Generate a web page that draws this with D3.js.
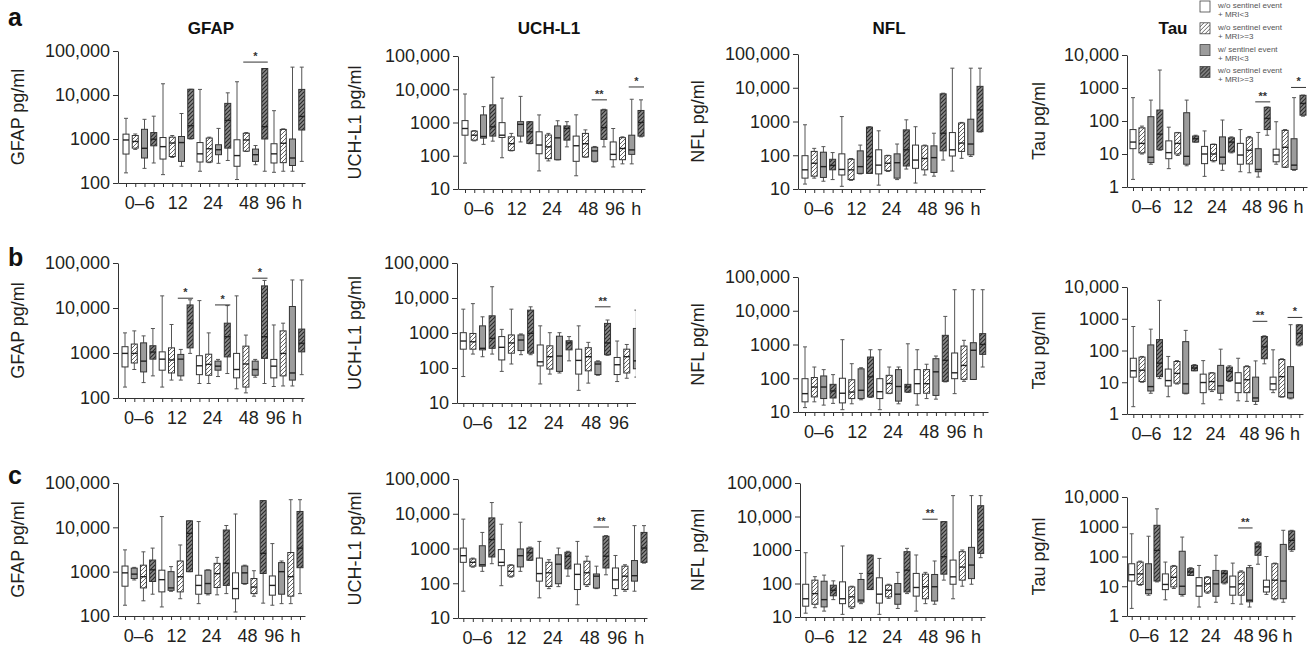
<!DOCTYPE html>
<html>
<head>
<meta charset="utf-8">
<script src="https://cdn.jsdelivr.net/npm/d3@7"></script>
<style>
  body { margin: 0; background: #fff; }
  svg { font-family: "Liberation Sans", Arial, Helvetica, sans-serif; }
</style>
</head>
<body>
<svg id="fig" width="1315" height="649"></svg>
<script>
// groups shown in the legend (text as printed in the figure)
const legendLines = [
  ["w/o sentinel event", "+ MRI<3"],
  ["w/o sentinel event", "+ MRI>=3"],
  ["w/ sentinel event", "+ MRI<3"],
  ["w/o sentinel event", "+ MRI>=3"]
];
const markers = ["GFAP", "UCH-L1", "NFL", "Tau"];
const rowLetters = ["a", "b", "c"];
const timeLabels = ["0–6", "12", "24", "48", "96", "h"];
const timeLabelPos = [1.5, 5.6, 9.4, 13.3, 16.2, 18.5];   // in box-slot units

// group of each box slot (4 groups x 5 time points)
const orderStd = [0,1,2,3, 0,1,2,3, 0,1,2,3, 0,1,2,3, 0,1,2,3];
const orderGfapC = [0,2,1,3, 0,2,1,3, 0,2,1,3, 0,2,1,3, 0,2,1,3];

// boxes: [whisker low, q1, median, q3, whisker high] pg/ml
const gfapA = [
  [170,455,950,1290,2950],[580,620,880,1200,1300],[215,370,615,1660,2800],[285,700,990,1400,3300],
  [155,350,670,1080,18000],[380,400,810,1100,1200],[240,310,830,1140,3800],[1000,1020,2000,13500,13500],
  [185,300,460,830,13400],[290,300,600,1050,1100],[280,440,570,740,1740],[325,620,2650,6450,11200],
  [120,240,420,960,20000],[520,530,950,1350,1400],[260,310,440,590,710],[185,1000,1900,40000,40000],
  [175,285,460,780,4400],[185,290,800,1650,1700],[185,250,370,1000,43000],[310,1600,3250,13400,43000]
];
const uchl1A = [
  [60,415,660,1140,7200],[280,295,415,550,570],[220,340,380,1690,3000],[275,390,740,3400,23000],
  [87,355,415,990,5400],[140,145,230,370,470],[260,390,880,1060,6100],[230,235,525,1050,1060],
  [35,115,210,525,1690],[70,82,185,420,470],[75,76,345,790,1130],[185,295,660,790,1060],
  [25,68,200,390,1700],[90,92,230,470,600],[65,68,140,180,190],[185,310,700,2400,2500],
  [46,76,110,260,660],[57,76,165,350,370],[57,110,150,415,5000],[370,390,1000,2300,4800]
];
const nflA = [
  [14,21,37,97,800],[21,24,58,130,160],[17,22,46,123,180],[19,37,50,76,120],
  [12,26,38,110,1400],[18,19,37,76,80],[28,29,46,135,200],[29,29,91,680,700],
  [13,28,51,145,530],[33,35,58,97,100],[19,21,60,110,215],[39,48,145,565,1120],
  [15,41,72,200,700],[26,37,80,190,200],[24,31,85,190,450],[72,135,450,6600,6900],
  [34,95,145,470,38000],[81,130,230,900,940],[92,103,215,1170,38000],[490,500,2200,11000,38000]
];
const tauA = [
  [1.7,14.5,23,55,510],[10,10.8,21,62,70],[4.9,5.5,8,135,430],[13,13.5,40,215,3500],
  [3.6,7.2,11,25,65],[9,10,21,44,45],[4.4,4.9,8.5,178,430],[23,23,29,35,37],
  [2.1,5.1,10,17,50],[5.8,6.3,10,19.5,20],[3.2,5,8,33,107],[10.8,11.5,23,31,33],
  [2.9,4.9,9.3,21,55],[2.7,5,13,31,34],[2,2.9,3.4,14.5,45],[37,55,120,260,265],
  [4.9,5.8,9.3,14,95],[3.9,4,16,52,55],[3.2,3.4,4.6,29,510],[140,150,340,600,610]
];
const gfapB = [
  [175,490,980,1380,2800],[430,600,980,1580,3100],[220,380,660,1680,2400],[310,730,1050,1450,3500],
  [175,415,730,1060,18600],[250,360,700,1300,4300],[250,310,730,930,1200],[980,1300,4600,11700,15200],
  [210,330,520,870,14600],[210,320,560,940,2800],[300,415,510,660,720],[350,820,2300,4600,11300],
  [160,280,430,980,18600],[130,175,570,1420,2500],[290,320,430,660,720],[210,760,2300,31000,41000],
  [180,280,510,720,4200],[185,310,980,3100,4600],[185,250,360,10800,42000],[330,1060,1650,3400,42000]
];
const uchl1B = [
  [57,345,590,1020,4800],[250,345,560,970,6900],[210,330,365,1600,2900],[250,365,700,3100,21000],
  [80,170,390,790,1270],[130,265,520,880,4800],[240,315,630,880,940],[240,265,980,4500,5600],
  [35,115,150,455,1600],[67,93,210,430,1020],[72,80,220,810,1020],[160,330,520,600,790],
  [23,67,165,345,1600],[37,83,210,380,540],[62,65,130,150,160],[230,240,520,1880,2350],
  [41,65,124,200,590],[51,72,210,345,470],[55,95,160,1350,4500],[370,390,1000,2300,4800]
];
const nflB = [
  [13.5,20,35,97,850],[20,28,55,105,215],[16,25,55,117,180],[18,26,42,66,128],
  [11.7,18.6,36,100,1390],[17.5,25,39,90,270],[23,25,44,190,205],[27,28,110,425,700],
  [11.7,25,40,97,700],[35,36,70,122,215],[17.5,21,57,180,215],[38,39,55,66,1050],
  [16,35,69,180,700],[25,36,69,180,260],[24,31,155,380,455],[78,81,340,1870,6800],
  [35,97,145,560,42000],[81,93,240,900,1330],[92,92,675,1130,42000],[215,510,1000,2100,42000]
];
const tauB = [
  [1.7,14.5,23,57,570],[10,10.5,24,62,65],[4.5,5.3,7.3,150,470],[13,15,40,220,3800],
  [3.5,7.6,11.3,26,65],[8.8,9.4,19,45,48],[4.3,4.5,8.9,190,430],[23,23,28,34,36],
  [2.1,4.7,9.8,18,48],[5.1,5.8,10.5,19.5,20],[2.8,4.5,7.7,34,110],[10.5,11.3,22,30,33],
  [2.6,4.7,9.4,20,57],[2.5,4.7,12,31,33],[2,2.5,3.2,14.5,47],[38,55,130,275,290],
  [4.7,5.8,8.9,14.5,105],[3.4,3.5,15,52,55],[3,3.2,4.7,31,650],[140,150,350,640,650]
];
const gfapC = [
  [175,470,940,1340,3100],[650,700,880,1200,1250],[220,430,770,1400,2800],[310,600,1100,1830,3400],
  [160,350,660,1080,17500],[360,380,430,1000,1300],[245,350,770,1740,4000],[1000,1000,7300,14000,14000],
  [190,310,490,830,13500],[300,320,540,1080,1100],[300,440,900,1540,2100],[320,490,1540,8700,11000],
  [123,245,415,940,20000],[520,540,940,1340,1400],[280,320,450,700,1050],[195,910,2600,40000,40000],
  [175,295,490,800,4300],[190,310,1000,1600,1740],[190,280,770,2700,42000],[320,1230,3400,22800,42000]
];
const uchl1C = [
  [59,400,620,1030,7000],[290,310,400,500,530],[220,310,340,1200,2900],[365,570,1800,7600,21000],
  [85,320,400,930,5000],[150,160,220,330,340],[220,295,620,970,5700],[460,460,750,1030,1100],
  [38,115,190,530,1600],[70,81,200,400,475],[80,97,355,660,1030],[160,260,600,780,830],
  [24,66,180,355,1600],[81,91,200,430,600],[70,73,160,185,310],[175,275,600,2250,2350],
  [44,70,125,275,630],[59,66,160,310,340],[59,115,165,450,4550],[380,400,1030,2900,4550]
];
const nflC = [
  [13,21,35,95,830],[19,24,50,126,160],[15,20,33,117,178],[33,43,63,89,120],
  [12,25,35,112,1320],[18,20,40,79,83],[25,28,32,132,200],[66,66,200,700,710],
  [12,26,48,148,560],[36,40,63,89,95],[18,24,48,100,215],[50,56,250,890,1120],
  [15,42,76,200,710],[25,35,80,190,215],[24,30,80,186,470],[126,190,630,7000,7000],
  [35,95,158,500,42000],[83,126,310,890,1000],[95,140,355,1200,42000],[590,790,4000,21000,42000]
];
const tauC = [
  [1.8,15,24.5,57,580],[10.8,11.5,26,65,70],[5,5.6,7.7,57,480],[14,15,160,1120,4000],
  [3.5,7.7,11.5,26,65],[8.4,9.5,20,47,50],[4.7,5.3,10,150,450],[23,23,30,39,42],
  [2,4.6,10.3,19.5,50],[5.8,6.4,12,20,21],[2.9,4.6,12,34,110],[12,13,27,33,34],
  [2.6,5,9.5,22,60],[2.5,5,12,30,33],[2,3,3.4,42,50],[55,110,210,285,310],
  [5.3,6.4,9.5,16,100],[3.5,3.8,16,57,60],[2.9,3.8,15,255,760],[150,170,350,720,760]
];

// significance brackets: [from slot, to slot, level pg/ml, label]
const sigGfapA = [[13,15,56000,"*"]];
const sigUchl1A = [[14,15,4800,"**"],[18,19,11700,"*"]];
const sigTauA = [[14,15,380,"**"],[18,19,1040,"*"]];
const sigGfapB = [[6,7,16500,"*"],[10,11,11700,"*"],[14,15,46000,"*"]];
const sigUchl1B = [[14,15,5600,"**"]];
const sigTauB = [[14,15,830,"**"],[18,19,1100,"*"]];
const sigUchl1C = [[14,15,4150,"**"]];
const sigNflC = [[13,14,8300,"**"]];
const sigTauC = [[13,14,910,"**"]];

const ticksGfap = [100, 1000, 10000, 100000];
const ticksWide = [10, 100, 1000, 10000, 100000];
const ticksTau = [1, 10, 100, 1000, 10000];

// panel layout
const panels = [
  {row:0, m:0, data:gfapA,  order:orderStd, sig:sigGfapA,  ticks:ticksGfap, x0:118,  x1:305,  bx0:126,    bx1:301.75, yTop:51,  yBot:183},
  {row:0, m:1, data:uchl1A, order:orderStd, sig:sigUchl1A, ticks:ticksWide, x0:458,  x1:645,  bx0:465,    bx1:641,    yTop:56,  yBot:189},
  {row:0, m:2, data:nflA,   order:orderStd, sig:[],        ticks:ticksWide, x0:798,  x1:985,  bx0:805,    bx1:980,    yTop:54,  yBot:189},
  {row:0, m:3, data:tauA,   order:orderStd, sig:sigTauA,   ticks:ticksTau,  x0:1127, x1:1307, bx0:1133,   bx1:1303,   yTop:55,  yBot:187},
  {row:1, m:0, data:gfapB,  order:orderStd, sig:sigGfapB,  ticks:ticksGfap, x0:118,  x1:304,  bx0:125,    bx1:301.7,  yTop:263, yBot:398},
  {row:1, m:1, data:uchl1B, order:orderStd, sig:sigUchl1B, ticks:ticksWide, x0:457,  x1:656,  bx0:463.3,  bx1:646,    yTop:263, yBot:403, clip:636},
  {row:1, m:2, data:nflB,   order:orderStd, sig:[],        ticks:ticksWide, x0:798,  x1:988,  bx0:805,    bx1:982.7,  yTop:277, yBot:412},
  {row:1, m:3, data:tauB,   order:orderStd, sig:sigTauB,   ticks:ticksTau,  x0:1127, x1:1303, bx0:1133.3, bx1:1299.3, yTop:287, yBot:414},
  {row:2, m:0, data:gfapC,  order:orderGfapC, sig:[],      ticks:ticksGfap, x0:118,  x1:305,  bx0:125,    bx1:300,    yTop:483, yBot:616},
  {row:2, m:1, data:uchl1C, order:orderStd, sig:sigUchl1C, ticks:ticksWide, x0:458,  x1:647,  bx0:463.3,  bx1:644,    yTop:479, yBot:618},
  {row:2, m:2, data:nflC,   order:orderStd, sig:sigNflC,   ticks:ticksWide, x0:800,  x1:985,  bx0:805.7,  bx1:980.7,  yTop:483, yBot:617},
  {row:2, m:3, data:tauC,   order:orderStd, sig:sigTauC,   ticks:ticksTau,  x0:1127, x1:1295, bx0:1131.7, bx1:1291.7, yTop:497, yBot:616}
];
const labelX = [18, 355, 698, 1039];
const titleX = [211, 549, 889, 1173];
const letterY = [26, 266, 484];

const svg = d3.select('#fig');
const defs = svg.append('defs');

function hatch(id, bg, fg, w) {
  const p = defs.append('pattern')
    .attr('id', id)
    .attr('patternUnits', 'userSpaceOnUse')
    .attr('width', 4).attr('height', 4);
  p.append('rect').attr('width', 4).attr('height', 4).attr('fill', bg);
  p.append('path')
    .attr('d', 'M-1,1 l2,-2 M0,4 l4,-4 M3,5 l2,-2')
    .attr('stroke', fg).attr('stroke-width', w);
}
hatch('hatchLight', '#ffffff', '#555', 0.9);
hatch('hatchDark', '#8a8a8a', '#2b2b2b', 1.2);
const groupFill = ['#ffffff', 'url(#hatchLight)', '#9c9c9c', 'url(#hatchDark)'];

const fmt = v => v >= 10000 ? d3.format(',')(v) : String(v);

panels.forEach((p, pi) => {
  const g = svg.append('g').attr('class', 'panel');
  if (p.clip) {
    defs.append('clipPath').attr('id', 'clip' + pi)
      .append('rect').attr('x', 0).attr('y', 0).attr('width', p.clip).attr('height', 649);
    g.attr('clip-path', `url(#clip${pi})`);
  }

  const y = d3.scaleLog()
    .domain([p.ticks[0], p.ticks[p.ticks.length - 1]])
    .range([p.yBot, p.yTop]);
  const x = d3.scaleLinear().domain([0, 19]).range([p.bx0, p.bx1]);
  const xAxisScale = d3.scaleLinear()
    .domain([x.invert(p.x0), x.invert(p.x1)])
    .range([p.x0, p.x1]);

  // y axis
  const yAxis = d3.axisLeft(y).tickValues(p.ticks).tickFormat(fmt)
    .tickSize(5).tickSizeOuter(0).tickPadding(3);
  const ga = g.append('g')
    .attr('transform', `translate(${p.x0},0)`)
    .call(yAxis);
  ga.selectAll('text').style('font-size', '18px').attr('fill', '#231f20');
  ga.selectAll('line,path').attr('stroke', '#333');

  // x axis: a tick under every box
  const xAxis = d3.axisBottom(xAxisScale).tickValues(d3.range(20)).tickFormat('')
    .tickSize(4).tickSizeOuter(0);
  const gx = g.append('g')
    .attr('transform', `translate(0,${p.yBot})`)
    .call(xAxis);
  gx.selectAll('line,path').attr('stroke', '#333');

  g.selectAll('.xlab')
    .data(timeLabels)
    .join('text')
    .attr('class', 'xlab')
    .attr('x', (d, i) => x(timeLabelPos[i]))
    .attr('y', p.yBot + 26)
    .attr('text-anchor', 'middle')
    .style('font-size', '18px')
    .attr('fill', '#231f20')
    .text(d => d);

  // y label
  g.append('text')
    .attr('transform', `translate(${labelX[p.m]},${(p.yTop + p.yBot) / 2}) rotate(-90)`)
    .attr('dy', '0.35em')
    .attr('text-anchor', 'middle')
    .style('font-size', '18px')
    .attr('fill', '#231f20')
    .text(markers[p.m] + ' pg/ml');

  // boxes
  const bw = 6;
  const boxes = g.selectAll('.box')
    .data(p.data)
    .join('g')
    .attr('class', 'box');

  boxes.append('line')
    .attr('x1', (d, i) => x(i)).attr('x2', (d, i) => x(i))
    .attr('y1', d => y(d[0])).attr('y2', d => y(d[1]))
    .attr('stroke', '#555').attr('stroke-width', 1);
  boxes.append('line')
    .attr('x1', (d, i) => x(i)).attr('x2', (d, i) => x(i))
    .attr('y1', d => y(d[3])).attr('y2', d => y(d[4]))
    .attr('stroke', '#555').attr('stroke-width', 1);
  [0, 4].forEach(k => {
    boxes.append('line')
      .attr('x1', (d, i) => x(i) - 2).attr('x2', (d, i) => x(i) + 2)
      .attr('y1', d => y(d[k])).attr('y2', d => y(d[k]))
      .attr('stroke', '#555').attr('stroke-width', 1);
  });
  boxes.append('rect')
    .attr('x', (d, i) => x(i) - bw / 2)
    .attr('y', d => y(d[3]))
    .attr('width', bw)
    .attr('height', d => Math.max(1, y(d[1]) - y(d[3])))
    .attr('fill', (d, i) => groupFill[p.order[i]])
    .attr('stroke', '#333').attr('stroke-width', 1);
  boxes.append('line')
    .attr('x1', (d, i) => x(i) - bw / 2).attr('x2', (d, i) => x(i) + bw / 2)
    .attr('y1', d => y(d[2])).attr('y2', d => y(d[2]))
    .attr('stroke', '#222').attr('stroke-width', 1.4);

  // significance brackets
  const sg = g.selectAll('.sig').data(p.sig).join('g').attr('class', 'sig');
  sg.append('line')
    .attr('x1', d => x(d[0]) - 3).attr('x2', d => x(d[1]) + 3)
    .attr('y1', d => y(d[2])).attr('y2', d => y(d[2]))
    .attr('stroke', '#333').attr('stroke-width', 1);
  sg.append('text')
    .attr('x', d => (x(d[0]) + x(d[1])) / 2)
    .attr('y', d => y(d[2]) - 2)
    .attr('text-anchor', 'middle')
    .style('font-size', '11px')
    .style('font-weight', 'bold')
    .attr('fill', '#333')
    .text(d => d[3]);
});

// titles and panel letters
svg.selectAll('.title')
  .data(markers)
  .join('text')
  .attr('class', 'title')
  .attr('x', (d, i) => titleX[i])
  .attr('y', 34)
  .attr('text-anchor', 'middle')
  .style('font-size', '17px')
  .style('font-weight', 'bold')
  .attr('fill', '#111')
  .text(d => d);

svg.selectAll('.letter')
  .data(rowLetters)
  .join('text')
  .attr('class', 'letter')
  .attr('x', 8)
  .attr('y', (d, i) => letterY[i])
  .style('font-size', '25px')
  .style('font-weight', 'bold')
  .attr('fill', '#111')
  .text(d => d);

// legend
const lg = svg.append('g').attr('transform', 'translate(1200,1)');
const items = lg.selectAll('.item')
  .data(legendLines)
  .join('g')
  .attr('class', 'item')
  .attr('transform', (d, i) => `translate(0,${i * 21.8})`);
items.append('rect')
  .attr('width', 10).attr('height', 11)
  .attr('fill', (d, i) => groupFill[i])
  .attr('stroke', '#444').attr('stroke-width', 0.8);
items.append('text')
  .attr('x', 18).attr('y', 7)
  .style('font-size', '8px').attr('fill', '#555')
  .text(d => d[0]);
items.append('text')
  .attr('x', 18).attr('y', 16)
  .style('font-size', '8px').attr('fill', '#555')
  .text(d => d[1]);
</script>
</body>
</html>
